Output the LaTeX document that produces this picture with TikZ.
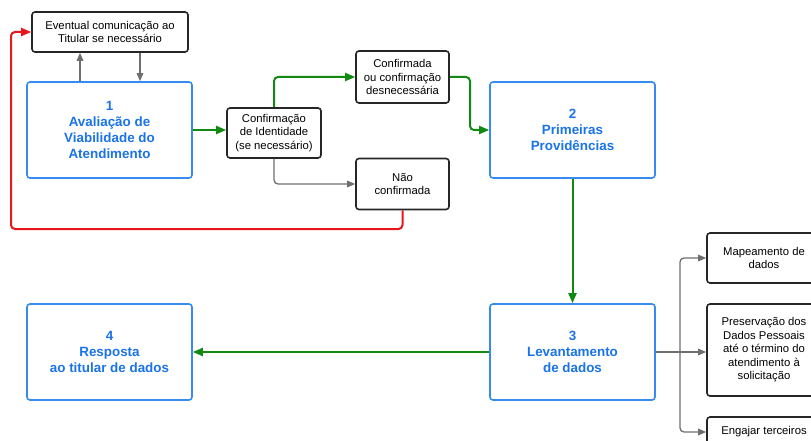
\documentclass[tikz,border=0pt]{standalone}
\usepackage{fontspec}
\setmainfont{Liberation Sans}
\usetikzlibrary{arrows.meta}
\definecolor{bluetxt}{RGB}{26,115,232}
\definecolor{blueline}{RGB}{52,140,240}
\definecolor{grn}{RGB}{18,138,18}
\definecolor{rd}{RGB}{230,22,26}
\definecolor{gry}{RGB}{110,110,110}
\tikzset{
  bluebox/.style={draw=blueline, line width=1.6pt, rounded corners=3pt, fill=white,
    minimum width=165pt, minimum height=96pt, align=center, text=bluetxt,
    font=\fontsize{13.4}{16}\selectfont\bfseries, inner sep=0pt},
  blackbox/.style={draw=black!85, line width=1.6pt, rounded corners=3pt, fill=white,
    align=center, font=\fontsize{11.3}{13.5}\selectfont, inner sep=0pt},
  conn/.style={line width=2pt, rounded corners=4pt, -{Triangle[length=10pt,width=8pt]}},
  gconn/.style={conn, draw=grn, color=grn},
  rconn/.style={conn, draw=rd, color=rd},
  kconn/.style={line width=1.3pt, draw=gry, rounded corners=4pt, -{Triangle[length=8pt,width=6.5pt]}, color=gry},
}
\begin{document}
\begin{tikzpicture}[x=1pt,y=-1pt]
\useasboundingbox (0,0) rectangle (811,441);
\clip (0,0) rectangle (811,441);
\node[bluebox] (b1) at (109.5,130) {1\\Avaliação de\\Viabilidade do\\Atendimento};
\node[bluebox] (b2) at (572.5,130) {2\\Primeiras\\Providências};
\node[bluebox] (b3) at (572.5,352) {3\\Levantamento\\de dados};
\node[bluebox] (b4) at (109.5,352) {4\\Resposta\\ao titular de dados};
\node[blackbox, minimum width=156pt, minimum height=40pt] (ev) at (110,32) {Eventual comunicação ao\\Titular se necessário};
\node[blackbox, minimum width=94pt, minimum height=50pt] (cf) at (274,133) {Confirmação\\de Identidade\\(se necessário)};
\node[blackbox, minimum width=93pt, minimum height=52pt] (cd) at (402.5,77) {Confirmada\\ou confirmação\\desnecessária};
\node[blackbox, minimum width=93pt, minimum height=51pt] (nc) at (402.5,184) {Não\\confirmada};
\node[blackbox, minimum width=114pt, minimum height=50pt] (mp) at (764,258) {Mapeamento de\\dados};
\node[blackbox, minimum width=114pt, minimum height=92pt] (pr) at (764,350) {Preservação dos\\Dados Pessoais\\até o término do\\atendimento à\\solicitação};
\node[blackbox, minimum width=114pt, minimum height=30pt] (eg) at (764,432) {Engajar terceiros};

% gray between box 1 and eventual
\draw[kconn] ([xshift=-29.5pt]b1.north) -- ([xshift=-29.5pt]b1.north |- ev.south);
\draw[kconn] ([xshift=30.5pt]b1.north |- ev.south) -- ([xshift=30.5pt]b1.north);

% green flow
\draw[gconn] (b1.east) -- (b1.east -| cf.west);
\draw[gconn] (cf.north) |- (cd.west);
\coordinate (gx) at (470,77);
\draw[gconn] (cd.east) -- (gx) |- (b2.west);
\draw[gconn] (b2.south) -- (b3.north);
\draw[gconn] (b3.west) -- (b4.east);

% gray to não confirmada
\draw[kconn] (cf.south) |- (nc.west);

% red loop
\coordinate (rc) at (11,229);
\draw[rconn] (nc.south) |- (rc) |- (ev.west);

% branches from box 3
\coordinate (jn) at (680,352);
\draw[line width=1.3pt, draw=gry] (b3.east) -- (jn);
\draw[kconn] (jn) |- (mp.west);
\draw[kconn] (jn) -- (jn -| pr.west);
\draw[kconn] (jn) |- (eg.west);
\end{tikzpicture}
\end{document}
